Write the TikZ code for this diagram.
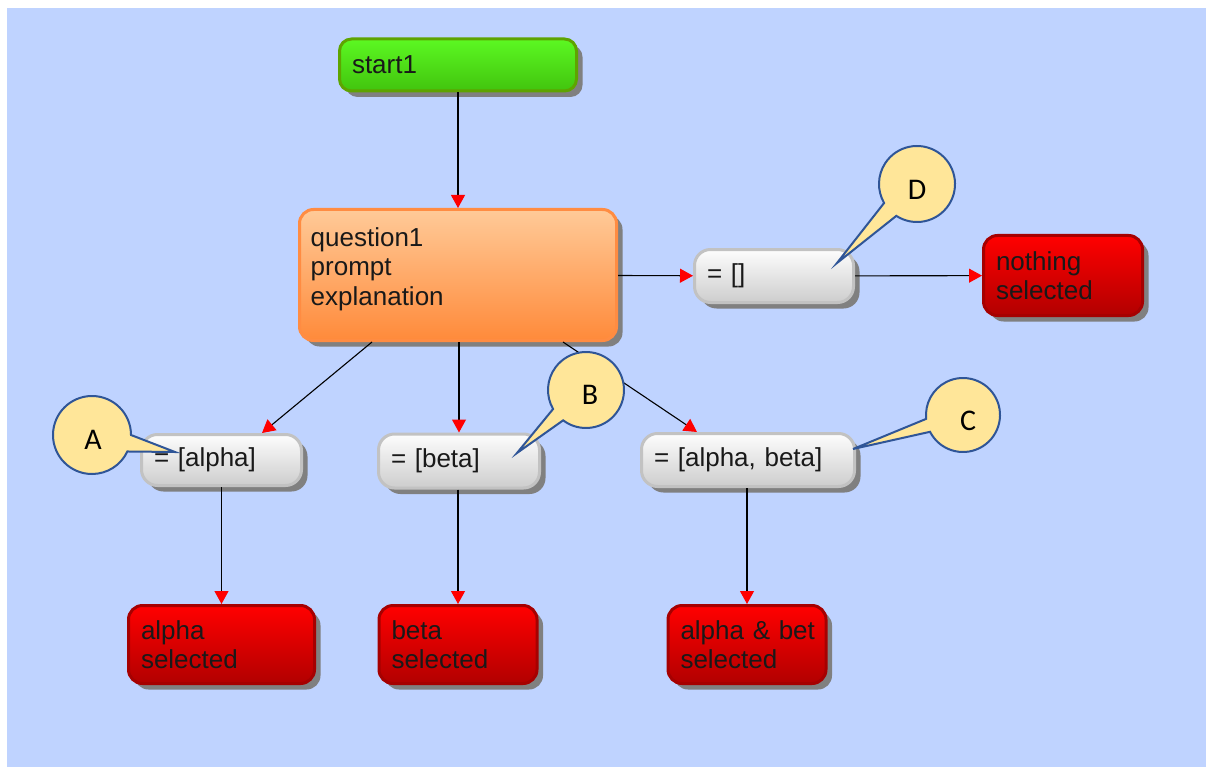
\documentclass[tikz,border=0pt]{standalone}
\usepackage{fontspec}
\setmainfont{Liberation Sans}
\newfontfamily\calfont{Carlito}
\usetikzlibrary{arrows.meta,shadows,calc}
\definecolor{bg}{RGB}{191,211,255}
\definecolor{gtop}{RGB}{92,248,34}
\definecolor{gbot}{RGB}{66,196,14}
\definecolor{gbor}{RGB}{94,164,0}
\definecolor{otop}{RGB}{255,202,152}
\definecolor{obot}{RGB}{255,138,58}
\definecolor{obor}{RGB}{255,140,66}
\definecolor{wtop}{RGB}{253,253,253}
\definecolor{wbot}{RGB}{205,205,205}
\definecolor{wbor}{RGB}{194,194,194}
\definecolor{rtop}{RGB}{255,0,0}
\definecolor{rbot}{RGB}{178,0,0}
\definecolor{rbor}{RGB}{166,0,0}
\definecolor{cfill}{RGB}{255,230,153}
\definecolor{cbor}{RGB}{47,85,151}
\begin{document}
\begin{tikzpicture}[x=1pt,y=1pt,
  font=\fontsize{26}{29.5}\selectfont,
  box/.style={rounded corners=13pt, line width=3pt, inner xsep=12.5pt, inner ysep=0pt,
    align=left, text=black!90,
    drop shadow={shadow xshift=6pt,shadow yshift=-6pt,fill=black!50,opacity=1}},
  greenbox/.style={box, top color=gtop, bottom color=gbot, draw=gbor, rounded corners=12pt},
  orangebox/.style={box, top color=otop, bottom color=obot, draw=obor, rounded corners=14pt},
  graybox/.style={box, top color=wtop, bottom color=wbot, draw=wbor, rounded corners=16pt},
  redbox/.style={box, top color=rtop, bottom color=rbot, draw=rbor, rounded corners=14pt},
  conn/.style={draw=black, line width=1.1pt, -{Triangle[width=14pt,length=13pt,red]}},
  callout/.style={fill=cfill, draw=cbor, line width=2pt, line join=miter},
  calltext/.style={font=\calfont\fontsize{30}{32}\selectfont, text=black, inner sep=0pt}
]
\useasboundingbox (0,0) rectangle (1206,-767);
\fill[bg] (7,-8) rectangle (1206,-767);

% nodes
\node[greenbox, minimum width=237pt, minimum height=52pt, text width=212pt] (start) at (458,-65) {start1};
\node[orangebox, minimum width=317pt, minimum height=131pt,
  label={[anchor=north west, align=left, inner sep=0pt, text=black!90, xshift=12.5pt, yshift=-19pt]north west:{question1\\prompt\\explanation}}] (q) at (458,-275) {};
\node[graybox, minimum width=159pt, minimum height=53pt, text width=134pt] (ee) at (774,-276) {= []};
\node[redbox, minimum width=159pt, minimum height=80pt, text width=134pt] (ns) at (1063,-275.5) {nothing\\selected};
\node[graybox, minimum width=160pt, minimum height=51pt, text width=135pt] (ea) at (221.5,-460) {= [alpha]};
\node[graybox, minimum width=161pt, minimum height=54pt, text width=136pt] (eb) at (459,-461) {= [beta]};
\node[graybox, minimum width=213pt, minimum height=53pt, text width=188pt] (eab) at (748,-460) {= [alpha, beta]};
\node[redbox, minimum width=186pt, minimum height=78pt, text width=161pt] (as) at (221.5,-644.5) {alpha\\selected};
\node[redbox, minimum width=158pt, minimum height=78pt, text width=133pt] (bs) at (458,-644.5) {beta\\selected};
\node[redbox, minimum width=158pt, minimum height=78pt, text width=133pt] (abs) at (747,-644.5) {\mbox{alpha \& bet}\\selected};

% connectors
\draw[conn] (start) -- (q);
\draw[conn] (q) -- (ee);
\draw[conn] (ee) -- (ns);
\draw[conn] ([xshift=-86pt]q.south) -- ([xshift=40.5pt]ea.north);
\draw[conn] (q.south -| eb.north) -- (eb.north);
\draw[conn] ([xshift=105pt]q.south) -- ([xshift=-51pt]eab.north);
\draw[conn] (ea) -- (as);
\draw[conn] (eb.south -| bs.north) -- (bs);
\draw[conn] (eab.south -| abs.north) -- (abs);

% callouts
\coordinate (cAc) at (92,-435); \coordinate (cAt) at (175,-452);
\draw[callout] (cAt) -- ($(cAc)+(0:39)$) arc[start angle=0, end angle=335, radius=39pt] -- cycle;
\node[calltext] (A) at (93,-440) {A};

\coordinate (cBc) at (586,-390); \coordinate (cBt) at (517,-453);
\draw[callout] (cBt) -- ($(cBc)+(233:38)$) arc[start angle=233, end angle=570, radius=38pt] -- cycle;
\node[calltext] (B) at (590,-395) {B};

\coordinate (cCc) at (963,-415); \coordinate (cCt) at (853,-449);
\draw[callout] (cCt) -- ($(cCc)+(207:37)$) arc[start angle=207, end angle=546, radius=37pt] -- cycle;
\node[calltext] (C) at (968,-421) {C};

\coordinate (cDc) at (917,-184); \coordinate (cDt) at (837,-263);
\draw[callout] (cDt) -- ($(cDc)+(237:38)$) arc[start angle=237, end angle=570, radius=38pt] -- cycle;
\node[calltext] (D) at (917,-190) {D};
\end{tikzpicture}
\end{document}
